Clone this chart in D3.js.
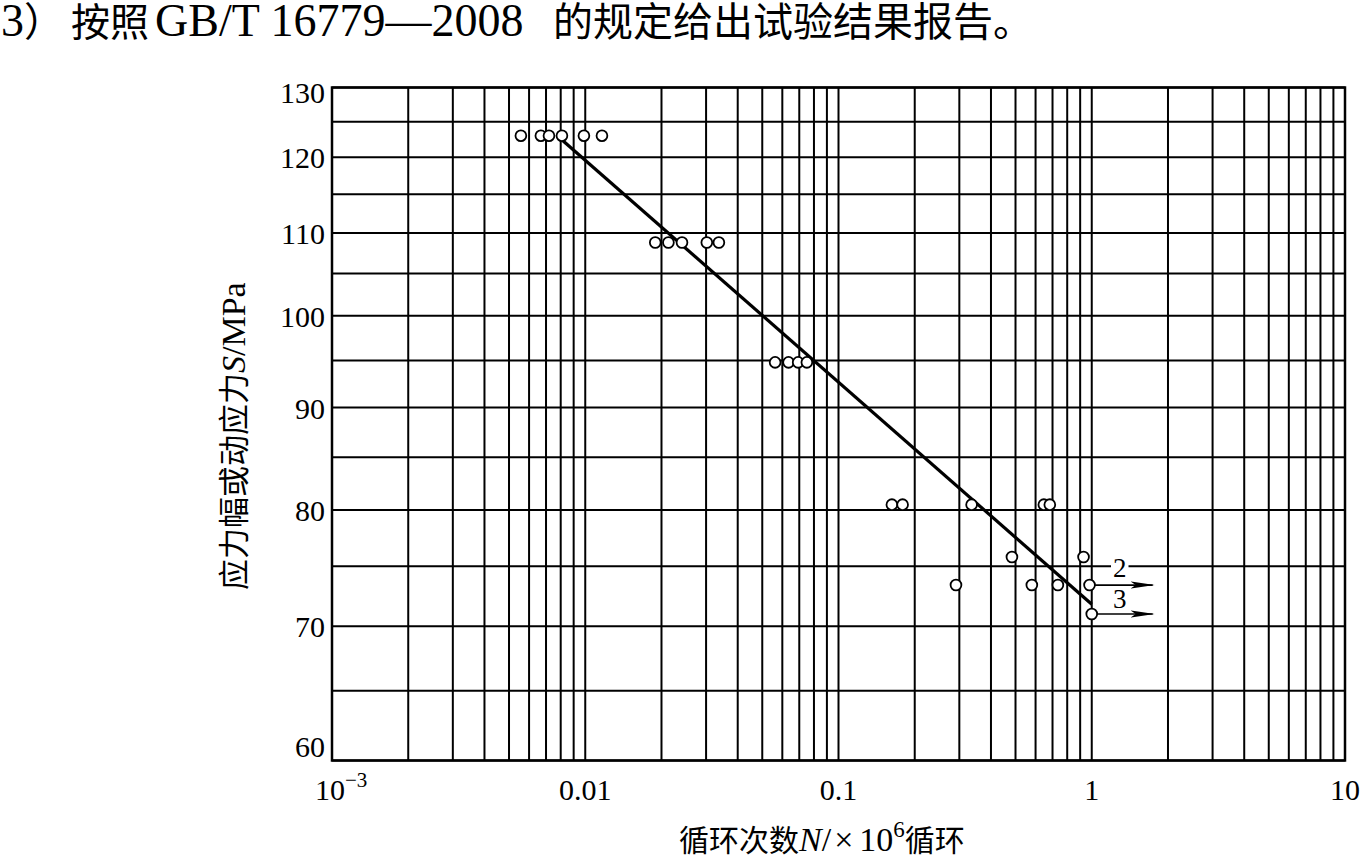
<!DOCTYPE html>
<html>
<head>
<meta charset="utf-8">
<script src="https://cdn.jsdelivr.net/npm/d3@7"></script>
<style>
  html, body { margin: 0; padding: 0; background: #fff; }
  svg { display: block; }
</style>
</head>
<body>
<svg id="chart" width="1360" height="859"></svg>
<script>
// ---------------- data ----------------
const titleText = ["3", "）", "按照", "GB/T 16779—2008", "的规定给出试验结果报告。"];
const xTickValues = [0.001, 0.01, 0.1, 1, 10];
const xTickLabels = [["10", "−3"], ["0.01"], ["0.1"], ["1"], ["10"]];
const yTickValues = [60, 70, 80, 90, 100, 110, 120, 130];
const yTickLabels = ["60", "70", "80", "90", "100", "110", "120", "130"];
const yGridValues = [60, 65, 70, 75, 80, 85, 90, 95, 100, 105, 110, 115, 120, 125, 130];

// test points: cycles (×10^6) and stress (MPa)
const cycles = [0.00557, 0.00668, 0.00719, 0.00809, 0.00988, 0.01164,
                0.0189, 0.0213, 0.0241, 0.0302, 0.0337,
                0.0562, 0.0635, 0.0693, 0.0750,
                0.1625, 0.1791, 0.3354, 0.647, 0.683,
                0.484, 0.928,
                0.291, 0.580, 0.735,
                0.98, 1.0];
const stress = [123, 123, 123, 123, 123, 123,
                108.8, 108.8, 108.8, 108.8, 108.8,
                94.8, 94.8, 94.8, 94.8,
                80.5, 80.5, 80.5, 80.5, 80.5,
                75.8, 75.8,
                73.4, 73.4, 73.4,
                73.4, 71.0];

// run-outs (arrows) with their counts
const runoutCycles = [0.98, 1.0];
const runoutStress = [73.4, 71.0];
const runoutEnd = 1.74;
const runoutLabels = ["2", "3"];

// fitted S-N line
const fitCycles = [0.0081, 1.0];
const fitStress = [122.4, 71.8];

const xTitleParts = [["循环次数", "cjk"], ["N", "it"], ["/", "lat"], ["×", "lat"], ["10", "lat"], ["6", "sup"], ["循环", "cjk"]];
const yTitleParts = [["应力幅或动应力", "cjk"], ["S", "it"], ["/MPa", "lat"]];

// ---------------- drawing ----------------
const LAT = "'Liberation Serif', 'Times New Roman', serif";
const CJK = "'Noto Sans CJK SC', sans-serif";

const svg = d3.select("#chart");
svg.append("rect").attr("width", 1360).attr("height", 859).attr("fill", "#fff");

const x = d3.scaleLog().domain([0.001, 10]).range([332, 1345]);
const y = d3.scaleLog().domain([60, 130]).range([760.5, 87.5]);

// title
const t = svg.append("text").attr("y", 36).attr("fill", "#000");
t.append("tspan").attr("x", 1).attr("font-family", LAT).attr("font-size", 46).text(titleText[0]);
t.append("tspan").attr("font-family", CJK).attr("font-size", 40).text(titleText[1]);
t.append("tspan").attr("x", 71).attr("font-family", CJK).attr("font-size", 39).text(titleText[2]);
t.append("tspan").attr("x", 155).attr("font-family", LAT).attr("font-size", 46).text(titleText[3]);
t.append("tspan").attr("x", 553).attr("font-family", CJK).attr("font-size", 40).text(titleText[4]);

// grid
const grid = svg.append("g").attr("stroke", "#000").attr("stroke-width", 2);
grid.selectAll("line.v").data(x.ticks()).join("line")
  .attr("x1", d => x(d)).attr("x2", d => x(d))
  .attr("y1", y(60)).attr("y2", y(130));
grid.selectAll("line.h").data(yGridValues).join("line")
  .attr("x1", x(0.001)).attr("x2", x(10))
  .attr("y1", d => y(d)).attr("y2", d => y(d));
svg.append("rect")
  .attr("x", x(0.001)).attr("y", y(130))
  .attr("width", x(10) - x(0.001)).attr("height", y(60) - y(130))
  .attr("fill", "none").attr("stroke", "#000").attr("stroke-width", 2.5);

// y tick labels
const yTop = y(130), yBot = y(60);
svg.append("g").selectAll("text").data(yTickValues).join("text")
  .attr("x", 325).attr("text-anchor", "end")
  .attr("y", d => Math.max(Math.min(y(d) + 11, yBot - 4), yTop + 15.5))
  .attr("font-family", LAT).attr("font-size", 30).attr("fill", "#000")
  .text((d, i) => yTickLabels[i]);

// x tick labels
const xl = svg.append("g");
xTickValues.forEach((v, i) => {
  const lab = xTickLabels[i];
  const tx = xl.append("text").attr("y", 800)
    .attr("font-family", LAT).attr("font-size", 30).attr("fill", "#000");
  if (lab.length === 2) {
    tx.attr("x", x(v) - 17).attr("text-anchor", "start");
    tx.append("tspan").text(lab[0]);
    tx.append("tspan").attr("font-size", 21).attr("dy", -13).text(lab[1]);
  } else {
    tx.attr("x", x(v)).attr("text-anchor", "middle").text(lab[0]);
  }
});

// fitted line
const line = d3.line().x(d => x(d[0])).y(d => y(d[1]));
svg.append("path")
  .attr("d", line(fitCycles.map((c, i) => [c, fitStress[i]])))
  .attr("fill", "none").attr("stroke", "#000").attr("stroke-width", 3.2);

// run-out arrows
svg.append("defs").append("marker")
  .attr("id", "arr").attr("markerUnits", "userSpaceOnUse")
  .attr("viewBox", "0 -4 24 8").attr("refX", 22).attr("refY", 0)
  .attr("markerWidth", 24).attr("markerHeight", 8).attr("orient", "auto")
  .append("path").attr("d", "M0,-3.5 L24,0 L0,3.5 L5,0 Z").attr("fill", "#000");
svg.append("g").selectAll("line").data(runoutCycles).join("line")
  .attr("x1", d => x(d)).attr("x2", x(runoutEnd))
  .attr("y1", (d, i) => y(runoutStress[i])).attr("y2", (d, i) => y(runoutStress[i]))
  .attr("stroke", "#000").attr("stroke-width", 1.7)
  .attr("marker-end", "url(#arr)");

// run-out labels
const rl = svg.append("g");
runoutLabels.forEach((lab, i) => {
  const tx = rl.append("text")
    .attr("x", x(1.0) + 28).attr("y", y(runoutStress[i]) - 8 + (i === 1 ? 2 : 0))
    .attr("text-anchor", "middle").attr("font-family", LAT).attr("font-size", 27)
    .attr("fill", "#000").text(lab);
  const bb = tx.node().getBBox();
  rl.insert("rect", "text")
    .attr("x", bb.x - 2).attr("y", bb.y + 4).attr("width", bb.width + 4).attr("height", bb.height - 8)
    .attr("fill", "#fff");
});

// points
svg.append("g").selectAll("circle").data(cycles).join("circle")
  .attr("cx", d => x(d)).attr("cy", (d, i) => y(stress[i]))
  .attr("r", 5.4).attr("fill", "#fff").attr("stroke", "#000").attr("stroke-width", 1.8);

// x axis title
const xt = svg.append("text").attr("x", 679).attr("y", 851).attr("fill", "#000");
xTitleParts.forEach(([s, k]) => {
  const sp = xt.append("tspan").text(s);
  if (k === "cjk") sp.attr("font-family", CJK).attr("font-size", 30);
  else if (k === "it") sp.attr("font-family", LAT).attr("font-size", 34).attr("font-style", "italic");
  else if (k === "sup") sp.attr("font-family", LAT).attr("font-size", 23).attr("dy", -14);
  else sp.attr("font-family", LAT).attr("font-size", 34);
  if (s === "循环") sp.attr("dy", 14);
  if (s === "×") sp.attr("dx", 3);
  if (s === "10") sp.attr("dx", 6);
});

// y axis title
const yt = svg.append("text").attr("transform", "translate(245,590) rotate(-90)").attr("fill", "#000");
yTitleParts.forEach(([s, k]) => {
  const sp = yt.append("tspan").text(s);
  if (k === "cjk") sp.attr("font-family", CJK).attr("font-size", 31);
  else if (k === "it") sp.attr("font-family", LAT).attr("font-size", 34).attr("font-style", "italic");
  else sp.attr("font-family", LAT).attr("font-size", 34);
});
</script>
</body>
</html>
